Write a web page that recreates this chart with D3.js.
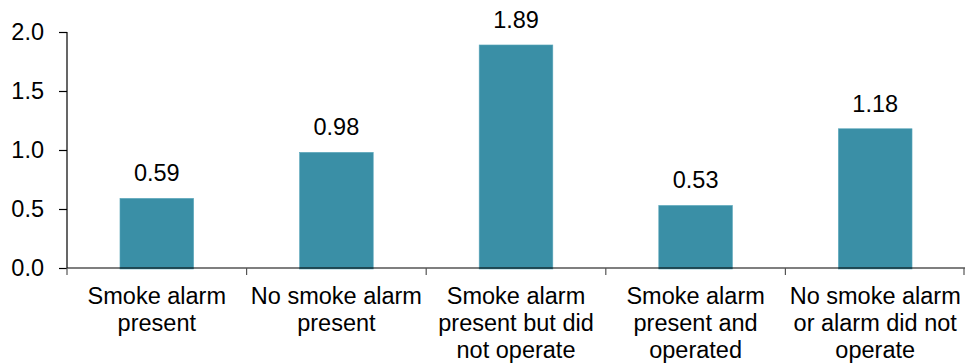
<!DOCTYPE html>
<html>
<head>
<meta charset="utf-8">
<script src="https://cdn.jsdelivr.net/npm/d3@7/dist/d3.min.js"></script>
<style>
  html, body { margin: 0; padding: 0; background: #fff; }
  svg { display: block; }
  text { font-family: "Liberation Sans", Arial, sans-serif; fill: #000; }
</style>
</head>
<body>
<svg id="chart" width="966" height="363"></svg>
<script>
// Rate by smoke alarm status
const categories = [
  ["Smoke alarm", "present"],
  ["No smoke alarm", "present"],
  ["Smoke alarm", "present but did", "not operate"],
  ["Smoke alarm", "present and", "operated"],
  ["No smoke alarm", "or alarm did not", "operate"]
];
const values = [0.59, 0.98, 1.89, 0.53, 1.18];
const yTicks = [0, 0.5, 1.0, 1.5, 2.0];

const svg = d3.select("#chart");
const margin = { left: 67, right: 1, top: 32, bottom: 95 };
const W = 966, H = 363;
const FS = 23.5;

const x = d3.scaleBand()
  .domain(d3.range(categories.length))
  .range([margin.left, W - margin.right])
  .paddingInner(0.59)
  .paddingOuter(0.295);

const y = d3.scaleLinear()
  .domain([0, 2])
  .range([H - margin.bottom, margin.top]);

// Bars
svg.append("g")
  .selectAll("rect")
  .data(values)
  .join("rect")
  .attr("x", (d, i) => x(i))
  .attr("y", d => y(d))
  .attr("width", x.bandwidth())
  .attr("height", d => y(0) - y(d) + 1)
  .attr("fill", "#3a8fa6")
  .attr("stroke", "#5aa7bb")
  .attr("stroke-width", 0.6);

// Value labels
svg.append("g")
  .selectAll("text")
  .data(values)
  .join("text")
  .attr("x", (d, i) => x(i) + x.bandwidth() / 2)
  .attr("y", d => y(d) - 17)
  .attr("text-anchor", "middle")
  .attr("font-size", FS)
  .text(d => d.toFixed(2));

// Y axis
const yAxis = svg.append("g")
  .attr("transform", `translate(${margin.left},0)`)
  .call(d3.axisLeft(y).tickValues(yTicks).tickFormat(d3.format(".1f")).tickSize(8).tickPadding(15));
yAxis.select(".domain").attr("stroke", "#000").attr("stroke-width", 1.2).attr("d", `M0,${y(2)}V${y(0)}`);
yAxis.selectAll(".tick line").attr("stroke", "#000").attr("stroke-width", 1.2);
yAxis.selectAll(".tick text").attr("font-size", FS).attr("font-family", "Liberation Sans, Arial, sans-serif").attr("fill", "#000");

// X axis baseline with category separators
const step = x.step();
const bounds = d3.range(categories.length + 1).map(i => margin.left + i * step - (i === categories.length ? 1 : 0));
const xg = svg.append("g");
xg.append("line")
  .attr("x1", margin.left).attr("x2", W - margin.right)
  .attr("y1", y(0)).attr("y2", y(0))
  .attr("stroke", "#000").attr("stroke-width", 1.2);
xg.selectAll("line.sep")
  .data(bounds)
  .join("line")
  .attr("class", "sep")
  .attr("x1", d => d).attr("x2", d => d)
  .attr("y1", y(0)).attr("y2", y(0) + 7)
  .attr("stroke", "#555").attr("stroke-width", 1.2);

// Category labels
xg.selectAll("text.cat")
  .data(categories)
  .join("text")
  .attr("class", "cat")
  .attr("text-anchor", "middle")
  .attr("font-size", FS)
  .attr("transform", (d, i) => `translate(${x(i) + x.bandwidth() / 2},${y(0) + 36})`)
  .selectAll("tspan")
  .data(d => d)
  .join("tspan")
  .attr("x", 0)
  .attr("dy", (d, j) => j === 0 ? 0 : 27)
  .text(d => d);
</script>
</body>
</html>
